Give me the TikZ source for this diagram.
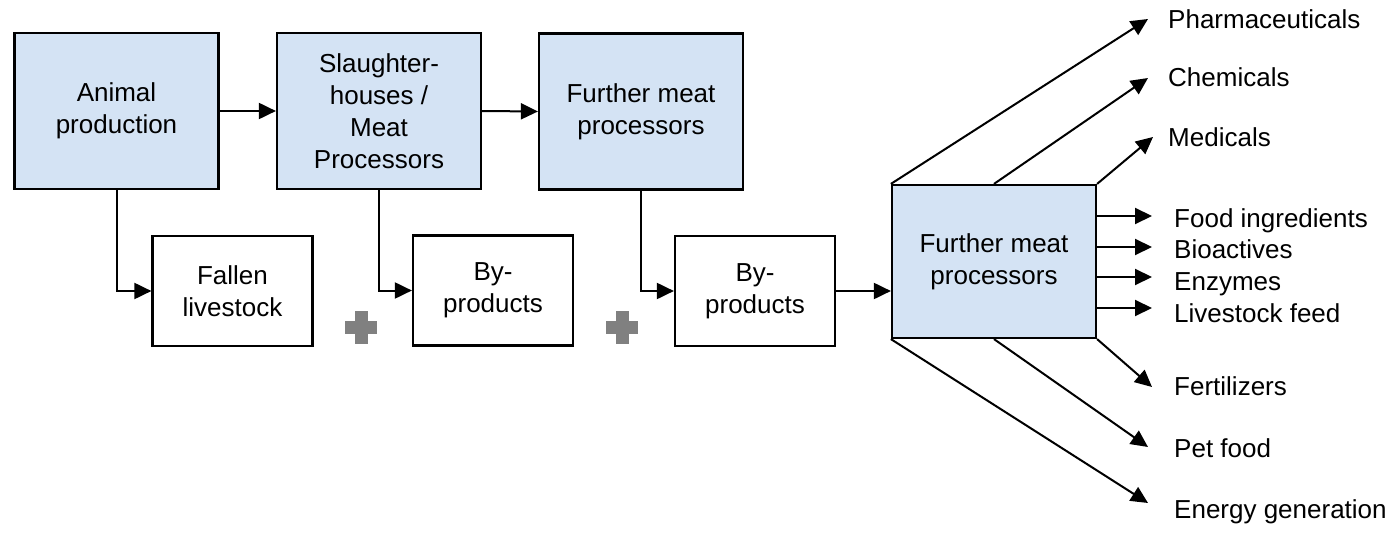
\documentclass[tikz,border=0pt]{standalone}
\usepackage{fontspec}
\setmainfont{Liberation Sans}
\usetikzlibrary{arrows.meta,calc}
\definecolor{boxblue}{RGB}{212,227,244}
\definecolor{plusgrey}{RGB}{128,128,128}
\begin{document}
\begin{tikzpicture}[x=1pt,y=-1pt,
  txt/.style={font=\fontsize{26}{32}\selectfont},
  bluebox/.style={txt,draw=black,fill=boxblue,line width=2.2pt,minimum width=204pt,minimum height=156pt,inner sep=0pt,align=center},
  whitebox/.style={txt,draw=black,fill=white,line width=2.2pt,minimum width=160pt,minimum height=110pt,inner sep=0pt,align=center},
  conn/.style={line width=2pt,-{Triangle[length=17pt,width=16pt]}},
  fan/.style={line width=2pt,-{Triangle[length=17pt,width=16pt]}},
  lbl/.style={txt,anchor=base west,inner sep=0pt},
  plussign/.style={fill=plusgrey}]
\useasboundingbox (0,0) rectangle (1390,535);

% main boxes
\node[bluebox] (A1) at (116.5,111) {Animal\\production};
\node[bluebox] (A2) at (379,111) {Slaughter-\\houses /\\Meat\\Processors};
\node[bluebox] (A3) at (641,111.5) {Further meat\\processors};
\node[whitebox] (F)  at (232.5,291) {Fallen\\livestock};
\node[whitebox] (B1) at (493,290.5) {By-\\products};
\node[whitebox] (B2) at (755,291) {By-\\products};
\node[bluebox,minimum height=153pt] (A7) at (994,261.5) {Further meat\\processors};

% connectors
\draw[conn] (A1.east) -- (A2.west);
\draw[conn] (A2.east) -- (A3.west);
\draw[conn] (A1.south) |- (F.west);
\draw[conn] (A2.south) |- (B1.west);
\draw[conn] (A3.south) |- (B2.west);
\draw[conn] (B2.east) -- (B2.east -| A7.west);

% plus signs
\foreach \cx in {361,622}{
  \fill[plussign] (\cx-16,327-6.5) rectangle (\cx+16,327+6.5);
  \fill[plussign] (\cx-6.5,327-16.5) rectangle (\cx+6.5,327+16.5);
}

% tips
\coordinate (tPh) at (1148,19);
\coordinate (tCh) at (1148,78);
\coordinate (tMe) at (1153,137);
\coordinate (tFo) at (1152,216);
\coordinate (tBi) at (1152,247);
\coordinate (tEn) at (1152,277);
\coordinate (tLi) at (1152,308);
\coordinate (tFe) at (1152,387);
\coordinate (tPe) at (1148,447);
\coordinate (tEg) at (1148,503);

% fan arrows
\draw[fan] (A7.north west) -- (tPh);
\draw[fan] (A7.north) -- (tCh);
\draw[fan] (A7.north east) -- (tMe);
\draw[fan] (A7.east |- tFo) -- (tFo);
\draw[fan] (A7.east |- tBi) -- (tBi);
\draw[fan] (A7.east |- tEn) -- (tEn);
\draw[fan] (A7.east |- tLi) -- (tLi);
\draw[fan] (A7.south east) -- (tFe);
\draw[fan] (A7.south) -- (tPe);
\draw[fan] (A7.south west) -- (tEg);

% labels
\node[lbl] (lPh) at (1168,29) {Pharmaceuticals};
\node[lbl] (lCh) at (1168,87) {Chemicals};
\node[lbl] (lMe) at (1168,146) {Medicals};
\node[lbl] (lFo) at (1174,227) {Food ingredients};
\node[lbl] (lBi) at (1174,258) {Bioactives};
\node[lbl] (lEn) at (1174,290) {Enzymes};
\node[lbl] (lLi) at (1174,322) {Livestock feed};
\node[lbl] (lFe) at (1174,395) {Fertilizers};
\node[lbl] (lPe) at (1174,457) {Pet food};
\node[lbl] (lEg) at (1174,518) {Energy generation};
\end{tikzpicture}
\end{document}
